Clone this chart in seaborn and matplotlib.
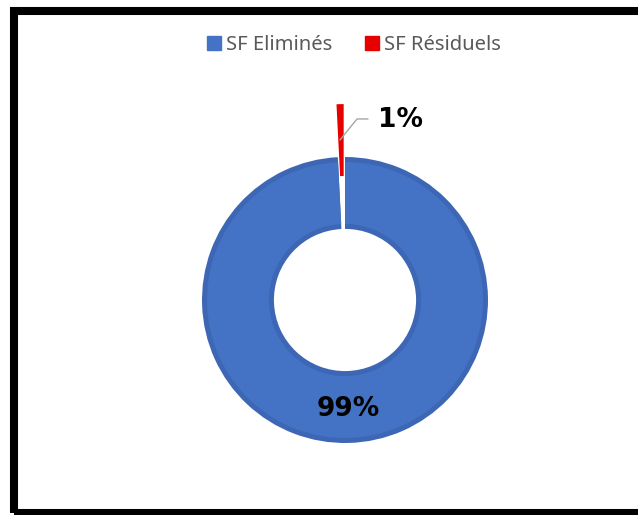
import matplotlib
matplotlib.use("Agg")
import matplotlib.pyplot as plt
import seaborn as sns
from matplotlib.patches import Rectangle
from matplotlib.lines import Line2D

sns.set_theme(style="white")
plt.rcParams['font.family'] = ['Noto Sans', 'DejaVu Sans']

categories = ["SF Eliminés", "SF Résiduels"]
values = [99.2, 0.8]
colors = ["#4472C4", "#E60000"]
band_colors = ["#3D67B4", "#E60000"]

W, H = 638, 515
fig = plt.figure(figsize=(W / 100, H / 100), dpi=100)

scale = 143.0  # px per data unit
cx, cy = 345, 300  # pixel center (from top)
half = 220
ax = fig.add_axes([(cx - half) / W, (H - cy - half) / H, 2 * half / W, 2 * half / H])

# outer darker band layer (also carries the exploded red slice)
ax.pie(values, colors=band_colors, startangle=90, counterclock=False,
       explode=[0, 0.37], radius=1.0,
       wedgeprops=dict(width=0.503, linewidth=0), frame=False)
# lighter face layer, inset radially
ax.pie(values, colors=[colors[0], "none"], startangle=90, counterclock=False,
       radius=1 - 5 / scale,
       wedgeprops=dict(width=0.503 - 10 / scale, linewidth=0), frame=False)

ax.set_xlim(-half / scale, half / scale)
ax.set_ylim(-half / scale, half / scale)
ax.set_aspect('equal')
ax.axis('off')

pct = [f"{round(v):.0f}%" for v in values]
ax.text(0.024, -0.759, pct[0], ha='center', va='center', fontsize=19,
        fontweight='bold', color='black', family='DejaVu Sans')
ax.text(0.385, 1.259, pct[1], ha='center', va='center', fontsize=19,
        fontweight='bold', color='black', family='DejaVu Sans')
ax.plot([-0.035, 0.084, 0.161], [1.119, 1.266, 1.266], color='#A6A6A6', lw=1)

handles = [Line2D([0], [0], marker='s', linestyle='', markersize=10,
                  markerfacecolor=c, markeredgecolor=c) for c in colors]
fig.legend(handles, categories, loc='center', bbox_to_anchor=(353 / W, 1 - 45 / H),
           ncol=2, frameon=False, fontsize=14.5, handletextpad=0.15,
           columnspacing=1.55, labelcolor='#595959', handlelength=0.9)

fig.patches.append(Rectangle((14 / W, (H - 512.5) / H), 2.0, (512.5 - 10.5) / H,
                             transform=fig.transFigure, fill=False,
                             edgecolor='black', linewidth=5.8, zorder=10))

fig.savefig("out.png", dpi=100)
